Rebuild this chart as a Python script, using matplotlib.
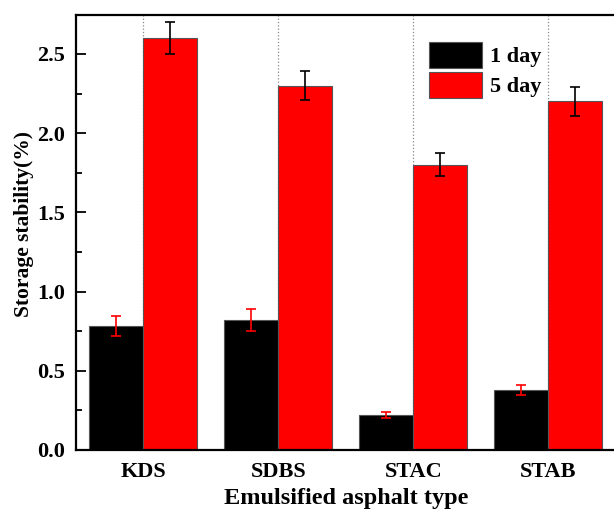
import matplotlib
matplotlib.use("Agg")
import matplotlib.pyplot as plt
import numpy as np
from matplotlib.ticker import MultipleLocator, FormatStrFormatter

plt.rcParams["font.family"] = ["Liberation Serif", "DejaVu Serif"]
plt.rcParams["font.weight"] = "bold"

categories = ["KDS", "SDBS", "STAC", "STAB"]
day1 = [0.78, 0.82, 0.22, 0.38]
day1_err = [0.063, 0.067, 0.02, 0.03]
day5 = [2.60, 2.30, 1.80, 2.20]
day5_err = [0.10, 0.09, 0.072, 0.09]

fig = plt.figure(figsize=(6.14, 5.11), dpi=100)
ax = fig.add_axes([0.1233, 0.1194, 0.8795, 0.8513])

x = np.arange(1, len(categories) + 1)
width = 0.4

ax.bar(x - width / 2, day1, width, color="black", edgecolor="#555555",
       linewidth=0.8, label="1 day", zorder=2)
ax.bar(x + width / 2, day5, width, color="#ff0000", edgecolor="#555555",
       linewidth=0.8, label="5 day", zorder=2)
ax.errorbar(x - width / 2, day1, yerr=day1_err, fmt="none", ecolor="#ff0000",
            elinewidth=1.2, capsize=3.3, capthick=1.2, zorder=3)
ax.errorbar(x + width / 2, day5, yerr=day5_err, fmt="none", ecolor="black",
            elinewidth=1.2, capsize=3.3, capthick=1.2, zorder=3)

ax.set_xlim(0.5, 4.5)
ax.set_ylim(0, 2.746)
ax.set_xticks(x)
ax.set_xticklabels(categories, fontsize=16, fontweight="bold")
ax.yaxis.set_major_locator(MultipleLocator(0.5))
ax.yaxis.set_minor_locator(MultipleLocator(0.25))
ax.yaxis.set_major_formatter(FormatStrFormatter("%.1f"))
for lab in ax.get_yticklabels():
    lab.set_fontsize(16)
    lab.set_fontweight("bold")

ax.tick_params(axis="y", which="major", direction="in", length=7, width=1.3, pad=7.5)
ax.tick_params(axis="y", which="minor", direction="in", length=4, width=1.3)
ax.tick_params(axis="x", length=0, pad=9)

ax.grid(axis="x", linestyle=":", color="#888888", linewidth=0.9, zorder=0)
ax.set_axisbelow(True)

for side in ["left", "bottom", "top", "right"]:
    ax.spines[side].set_linewidth(1.6)

ax.set_xlabel("Emulsified asphalt type", fontsize=17.5, fontweight="bold", labelpad=4)
ax.set_ylabel("Storage stability(%)", fontsize=15.5, fontweight="bold")
ax.yaxis.set_label_coords(-0.077, 0.52)

ax.legend(loc="upper left", bbox_to_anchor=(0.654, 0.938), frameon=False,
          borderpad=0, borderaxespad=0, handlelength=2.4, handleheight=1.45,
          labelspacing=0.15, handletextpad=0.35,
          prop={"size": 16, "weight": "bold"})

fig.savefig("out.png", dpi=100)
